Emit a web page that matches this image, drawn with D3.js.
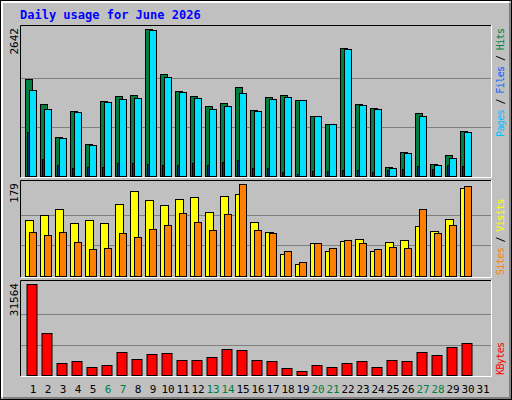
<!DOCTYPE html><html><head><meta charset="utf-8"><script src="https://cdnjs.cloudflare.com/ajax/libs/d3/7.8.5/d3.min.js"></script>
<style>body{margin:0;background:#fff}</style></head><body><script>
const days=d3.range(1,32);
const weekend=[6,7,13,14,20,21,27,28];
const hits=[1743,1294,707,1168,575,1348,1438,1456,2642,1833,1528,1438,1258,1312,1600,1186,1420,1456,1366,1078,935,2300,1294,1222,162,431,1132,216,377,809];
const files=[1546,1204,683,1150,557,1330,1384,1402,2624,1779,1510,1402,1204,1258,1492,1168,1384,1420,1366,1078,935,2283,1276,1204,144,413,1078,198,323,791];
const pages=[791,306,198,144,162,162,234,234,216,198,198,234,198,252,288,144,144,72,36,90,90,108,108,72,108,126,180,126,198,180];
const sites=[109,119,130,103,109,103,140,165,148,138,150,154,125,156,160,105,86,43,23,64,49,68,72,49,66,70,97,88,111,171];
const visits=[86,80,86,66,53,54,84,76,91,99,123,105,90,121,179,90,84,49,27,64,54,70,64,53,56,54,130,84,99,175];
const kbytes=[31564,14630,4262,4954,2880,3571,8064,5645,7373,7718,5299,5299,6336,9101,8755,5299,4954,2534,1498,3571,2880,4262,4954,2880,5299,4954,8064,7027,9792,11174];
const W=512,H=400,font="'DejaVu Sans Mono','Liberation Mono',monospace";
const svg=d3.select("body").append("svg").attr("width",W).attr("height",H);
svg.append("rect").attr("x",0.5).attr("y",0.5).attr("width",W-1).attr("height",H-1).attr("fill","#c0c0c0").attr("stroke","#000");
svg.append("path").attr("d","M2,397V2H509").attr("stroke","#fff").attr("fill","none").attr("stroke-width",2);
svg.append("path").attr("d","M3,398H510V3").attr("stroke","#808080").attr("fill","none").attr("stroke-width",2);
svg.append("text").attr("x",20).attr("y",19).attr("fill","#0000ff").attr("font-family",font).attr("font-weight","bold").attr("font-size",12).text("Daily usage for June 2026");
const x=d3.scaleLinear().domain([1,32]).range([25,490]);
function panel(y0,y1,max,series,legend,ly){
  const g=svg.append("g");
  const y=d3.scaleLinear().domain([0,max]).range([y1,y0+4]);
  g.append("path").attr("d",`M20.5,${y1+1}V${y0+0.5}H491`).attr("stroke","#000").attr("fill","none");
  g.append("path").attr("d",`M21,${y1+1.5}H491.5V${y0}`).attr("stroke","#fff").attr("fill","none");
  [max/3,2*max/3].forEach(v=>g.append("line").attr("x1",21).attr("x2",491).attr("y1",Math.round(y(v))+.5).attr("y2",Math.round(y(v))+.5).attr("stroke","#808080"));
  series.forEach(s=>{
    g.selectAll(null).data(s.data).enter().append("rect")
     .attr("x",(d,i)=>x(i+1)+s.off+.5).attr("width",s.w).attr("y",d=>Math.round(y(d))+.5).attr("height",d=>y1-Math.round(y(d)))
     .attr("fill",s.color).attr("stroke","#000");
  });
  g.append("text").attr("transform",`translate(18,${y0+3}) rotate(-90)`).attr("text-anchor","end").attr("font-family",font).attr("font-size",11).text(max);
  const t=g.append("text").attr("transform",`translate(504,${ly}) rotate(-90)`).attr("font-family",font).attr("font-size",10).attr("letter-spacing",-0.6);
  legend.forEach((l,i)=>{ if(i) t.append("tspan").attr("fill","#000").text(" / "); t.append("tspan").attr("fill",l[1]).text(l[0]);});
}
panel(25,176,2642,[{data:hits,off:0,w:7,color:"#008040"},{data:files,off:4,w:7,color:"#00e0ff"},{data:pages,off:2,w:1.5,color:"#0060ff"}],
  [["Pages","#00c0ff"],["Files","#0060ff"],["Hits","#008040"]],137);
panel(180,276,179,[{data:sites,off:0,w:8,color:"#ffff00"},{data:visits,off:4,w:7,color:"#ff8000"}],[["Sites","#ff8000"],["Visits","#ffff00"]],275);
panel(280,375,31564,[{data:kbytes,off:1.5,w:10,color:"#ff0000"}],[["KBytes","#ff0000"]],375);
svg.selectAll(".d").data(days).enter().append("text").attr("x",d=>x(d)+8).attr("y",393).attr("text-anchor","middle")
 .attr("font-family",font).attr("font-size",11).attr("fill",d=>weekend.includes(d)?"#008040":"#000").text(d=>d);
</script></body></html>
